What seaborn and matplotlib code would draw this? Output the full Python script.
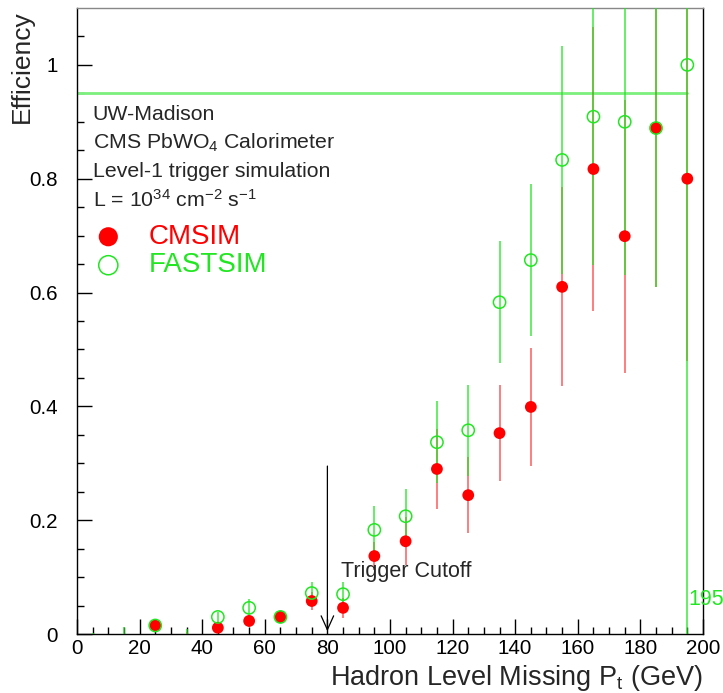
import numpy as np
import pandas as pd
import matplotlib
matplotlib.use("Agg")
import matplotlib.pyplot as plt
import seaborn as sns

# ---- data ----
pt_bins = [5, 15, 25, 35, 45, 55, 65, 75, 85, 95, 105, 115, 125, 135, 145, 155, 165, 175, 185, 195]
cmsim_eff = [0.0, 0.0, 0.015, 0.0, 0.011, 0.023, 0.030, 0.058, 0.046, 0.137, 0.163, 0.290, 0.244,
             0.353, 0.399, 0.610, 0.817, 0.699, 0.889, 0.800]
cmsim_err = [0.0, 0.0, 0.008, 0.004, 0.008, 0.010, 0.010, 0.015, 0.017, 0.025, 0.042, 0.070, 0.067,
             0.084, 0.103, 0.175, 0.250, 0.240, 0.280, 0.320]
fastsim_eff = [0.0, 0.0, 0.015, 0.0, 0.030, 0.046, 0.030, 0.072, 0.070, 0.183, 0.207, 0.337, 0.358,
               0.583, 0.657, 0.833, 0.909, 0.900, 0.889, 1.000]
fastsim_err = [0.002, 0.012, 0.008, 0.008, 0.008, 0.015, 0.010, 0.020, 0.022, 0.042, 0.048, 0.072, 0.080,
               0.107, 0.133, 0.200, 0.260, 0.270, 0.280, 1.000]
threshold_eff = 0.95
threshold_pt = 195
cutoff_pt = 80

RED = "#ff0000"
GREEN = "#22e622"

sns.set_style("ticks")
plt.rcParams["font.family"] = ["Liberation Sans", "DejaVu Sans"]
plt.rcParams["mathtext.default"] = "regular"

fig = plt.figure(figsize=(7.23, 6.93), dpi=100)
ax = fig.add_axes([0.1065, 0.0851, 0.8658, 0.9034])

df = pd.DataFrame({"pt": pt_bins, "cmsim": cmsim_eff, "cmsim_err": cmsim_err,
                   "fast": fastsim_eff, "fast_err": fastsim_err})

# error bars
ax.errorbar(df["pt"], df["cmsim"], yerr=df["cmsim_err"], fmt="none",
            ecolor=RED, alpha=0.55, elinewidth=1.3, capsize=0, zorder=2)
ax.errorbar(df["pt"], df["fast"], yerr=df["fast_err"], fmt="none",
            ecolor=GREEN, alpha=0.75, elinewidth=1.3, capsize=0, zorder=3)

# markers (only non-zero points)
dr = df[df["cmsim"] > 0]
df_ = df[df["fast"] > 0]
sns.scatterplot(data=dr, x="pt", y="cmsim", ax=ax, color=RED, s=72,
                edgecolor="none", linewidth=0, zorder=4, legend=False)
sns.scatterplot(data=df_, x="pt", y="fast", ax=ax, s=78, facecolor="none",
                edgecolor=GREEN, linewidth=1.1, zorder=5, legend=False)

# threshold line
ax.plot([0, threshold_pt], [threshold_eff, threshold_eff], color="#7cf07c", lw=2, zorder=1)
ax.text(threshold_pt + 0.3, 0.06, "195", color=GREEN, fontsize=15.5, ha="left", va="center")

# trigger cutoff arrow
ax.annotate("", xy=(cutoff_pt, 0.0), xytext=(cutoff_pt, 0.3),
            arrowprops=dict(arrowstyle="->,head_length=1.0,head_width=0.45", color="black", lw=0.9))
ax.text(cutoff_pt + 4.5, 0.109, "Trigger Cutoff", fontsize=15.5, ha="left", va="center")

# text block
tx = 5
fs = 15.3
ax.text(tx, 0.912, "UW-Madison", fontsize=fs, va="center")
ax.text(tx, 0.863, r"CMS PbWO$_4$ Calorimeter", fontsize=fs, va="center")
ax.text(tx, 0.812, "Level-1 trigger simulation", fontsize=fs, va="center")
ax.text(tx, 0.763, r"L = 10$^{34}$ cm$^{-2}$ s$^{-1}$", fontsize=fs, va="center")

# legend
ax.scatter([10], [0.698], s=190, color=RED, edgecolor="none", zorder=6)
ax.scatter([10], [0.648], s=190, facecolor="none", edgecolor=GREEN, linewidth=1.1, zorder=6)
ax.text(22.8, 0.698, "CMSIM", color=RED, fontsize=20, va="center")
ax.text(22.8, 0.648, "FASTSIM", color=GREEN, fontsize=20, va="center")

# axes
ax.set_xlim(0, 200)
ax.set_ylim(0, 1.1)
ax.set_xticks(np.arange(0, 201, 20))
ax.set_xticks(np.arange(0, 201, 5), minor=True)
ax.set_yticks(np.arange(0, 1.01, 0.2))
ax.set_yticklabels(["0", "0.2", "0.4", "0.6", "0.8", "1"])
ax.set_yticks(np.arange(0, 1.1, 0.05), minor=True)
ax.tick_params(which="both", direction="in", top=False, right=False, labelsize=14.8, colors="black")
ax.tick_params(which="major", length=11, width=1)
ax.tick_params(axis="x", which="major", pad=3.5)
ax.tick_params(axis="y", which="major", pad=14)
ax.tick_params(which="minor", length=5, width=1)
for s in ax.spines.values():
    s.set_linewidth(1)
    s.set_color("black")
ax.spines["top"].set_color("#888888")

ax.set_xlabel(r"Hadron Level Missing P$_t$ (GeV)", fontsize=19.5, ha="right", va="baseline")
ax.xaxis.set_label_coords(1.0, -0.0815)
ax.set_ylabel("Efficiency", fontsize=19, ha="right", va="center")
ax.yaxis.set_label_coords(-0.088, 0.997)

fig.savefig("out.png", dpi=100)
